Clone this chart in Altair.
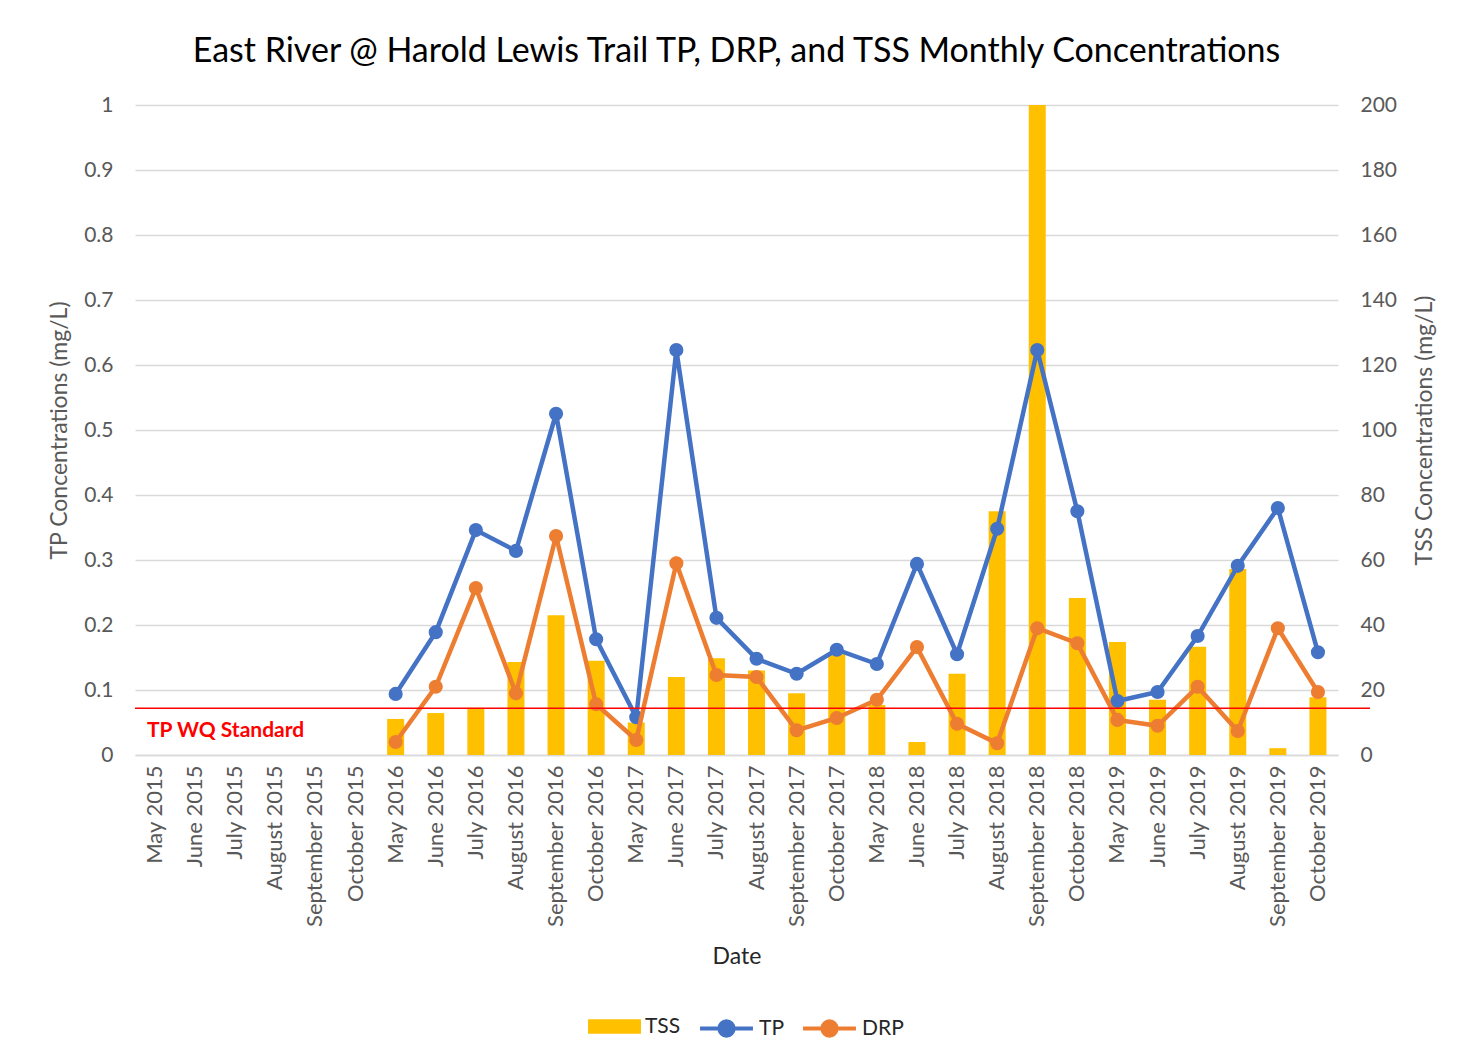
import altair as alt
import pandas as pd

months = ["May 2015", "June 2015", "July 2015", "August 2015", "September 2015", "October 2015",
          "May 2016", "June 2016", "July 2016", "August 2016", "September 2016", "October 2016",
          "May 2017", "June 2017", "July 2017", "August 2017", "September 2017", "October 2017",
          "May 2018", "June 2018", "July 2018", "August 2018", "September 2018", "October 2018",
          "May 2019", "June 2019", "July 2019", "August 2019", "September 2019", "October 2019"]

tp = [None, None, None, None, None, None,
      0.094, 0.189, 0.346, 0.314, 0.525, 0.178,
      0.058, 0.623, 0.211, 0.148, 0.125, 0.162,
      0.140, 0.294, 0.155, 0.348, 0.623, 0.375,
      0.083, 0.097, 0.183, 0.291, 0.380, 0.158]

drp = [None, None, None, None, None, None,
       0.020, 0.105, 0.257, 0.095, 0.337, 0.078,
       0.023, 0.295, 0.123, 0.120, 0.038, 0.057,
       0.085, 0.166, 0.048, 0.018, 0.195, 0.172,
       0.054, 0.045, 0.105, 0.037, 0.195, 0.097]

tss = [None, None, None, None, None, None,
       11.1, 12.9, 14.5, 28.6, 43.0, 29.0,
       10.0, 24.0, 29.8, 26.0, 19.0, 31.0,
       15.4, 4.0, 25.0, 75.0, 200.0, 48.3,
       34.8, 17.0, 33.3, 57.2, 2.1, 17.8]

tp_standard = 0.072

df = pd.DataFrame({"Date": months, "TP": tp, "DRP": drp, "TSS": tss,
                   "sTSS": "TSS", "sTP": "TP", "sDRP": "DRP"})

FONT = "Lato"
GRAY = "#595959"
C_TSS, C_TP, C_DRP = "#FFC000", "#4472C4", "#ED7D31"

W, H = 1203, 650

x_enc = alt.X("Date:N", sort=months,
              scale=alt.Scale(domain=months, paddingInner=0, paddingOuter=0),
              axis=alt.Axis(title="Date", labelAngle=-90, labelFontSize=22, labelColor=GRAY,
                            titleFontSize=23, titleColor="#262626", titleFontWeight="normal",
                            labelPadding=10, titlePadding=19, ticks=False,
                            domainColor="#D9D9D9", domainWidth=1.5, labelFont=FONT, titleFont=FONT))

left_axis = alt.Axis(orient="left", title="TP Concentrations (mg/L)", values=[i / 10 for i in range(11)],
                     format="~g",
                     grid=True, gridColor="#D9D9D9", gridWidth=1.5, ticks=False, domain=False,
                     labelFontSize=21, labelColor=GRAY, titleFontSize=23, titleColor=GRAY,
                     titleFontWeight="normal", labelPadding=22, titlePadding=12,
                     labelFont=FONT, titleFont=FONT)
left_title = "TP Concentrations (mg/L)"

line_path = "M-1,0H1M0.27,0A0.27,0.27 0 1,1 -0.27,0A0.27,0.27 0 1,1 0.27,0Z"
rect_path = "M-1,-0.27H1V0.27H-1Z"

def legend(x, color, path, sw):
    return alt.Legend(orient="none", legendX=x, legendY=895, title=None,
                      symbolType=path, symbolSize=2800, symbolFillColor=color,
                      symbolStrokeColor=color, symbolStrokeWidth=sw, symbolOpacity=1,
                      labelFontSize=21, labelFont=FONT, labelColor="#262626", labelOffset=4)

bars = alt.Chart(df).mark_bar(size=17).encode(
    x=x_enc,
    y=alt.Y("TSS:Q", scale=alt.Scale(domain=[0, 200]),
            axis=alt.Axis(orient="right", title="TSS Concentrations (mg/L)", values=list(range(0, 201, 20)),
                          grid=False, ticks=False, domain=False, labelFontSize=21, labelColor=GRAY,
                          titleFontSize=23, titleColor=GRAY, titleFontWeight="normal", titleAngle=270,
                          labelPadding=22, titlePadding=40, labelFont=FONT, titleFont=FONT)),
    color=alt.Color("sTSS:N", scale=alt.Scale(domain=["TSS"], range=[C_TSS]),
                    legend=legend(453, C_TSS, rect_path, 0)),
)

tp_line = alt.Chart(df).mark_line(strokeWidth=4.5, point=alt.OverlayMarkDef(size=200, filled=True)).encode(
    x=x_enc,
    y=alt.Y("TP:Q", scale=alt.Scale(domain=[0, 1]), axis=left_axis, title=left_title),
    color=alt.Color("sTP:N", scale=alt.Scale(domain=["TP"], range=[C_TP]),
                    legend=legend(563, C_TP, line_path, 4)),
)

drp_line = alt.Chart(df).mark_line(strokeWidth=4.5, point=alt.OverlayMarkDef(size=200, filled=True)).encode(
    x=x_enc,
    y=alt.Y("DRP:Q", scale=alt.Scale(domain=[0, 1]), axis=left_axis, title=left_title),
    color=alt.Color("sDRP:N", scale=alt.Scale(domain=["DRP"], range=[C_DRP]),
                    legend=legend(666, C_DRP, line_path, 4)),
)

std_df = pd.DataFrame({"v": [tp_standard], "label": ["TP WQ Standard"]})
rule = alt.Chart(std_df).mark_rule(color="#FF0000", strokeWidth=1.5).encode(
    y=alt.Y("v:Q", scale=alt.Scale(domain=[0, 1]), axis=left_axis, title=left_title),
    x=alt.value(0), x2=alt.value(1235))
txt = alt.Chart(std_df).mark_text(color="#FF0000", fontWeight="bold", fontSize=21, font=FONT,
                                  align="left", baseline="middle", dy=23).encode(
    y=alt.Y("v:Q", scale=alt.Scale(domain=[0, 1]), axis=left_axis, title=left_title),
    x=alt.value(12), text="label:N")

lines = alt.layer(tp_line, drp_line, rule, txt).resolve_scale(color="independent")

chart = alt.layer(bars, lines).resolve_scale(y="independent", color="independent").properties(
    width=W, height=H,
    title=alt.Title("East River @ Harold Lewis Trail TP, DRP, and TSS Monthly Concentrations",
                    fontSize=34, font=FONT, fontWeight="normal", color="#000000",
                    anchor="middle", frame="group", offset=25),
    autosize=alt.AutoSizeParams(type="none"),
    padding={"left": 127, "top": 97, "right": 110, "bottom": 290},
    background="white",
).configure_view(stroke="transparent", strokeWidth=0)

chart.save("out.html", embed_options={"renderer": "svg", "actions": False})
